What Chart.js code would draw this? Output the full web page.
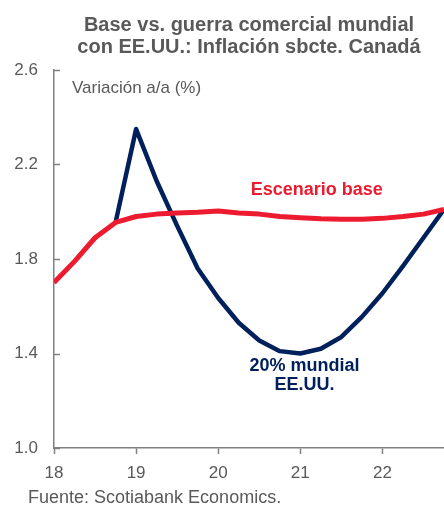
<!DOCTYPE html>
<html>
<head>
<meta charset="utf-8">
<script src="https://cdn.jsdelivr.net/npm/chart.js@4.4.1/dist/chart.umd.min.js"></script>
<style>
  html, body { margin: 0; padding: 0; background: #fff; }
  #wrap { width: 444px; height: 506px; }
</style>
</head>
<body>
<div id="wrap"><canvas id="chart" width="444" height="506"></canvas></div>
<script>
// quarterly positions (year fraction, 18 = 2018)
const quarters = [18, 18.25, 18.5, 18.75, 19, 19.25, 19.5, 19.75, 20, 20.25,
                  20.5, 20.75, 21, 21.25, 21.5, 21.75, 22, 22.25, 22.5, 22.75];
const baseCase = [1.70, 1.79, 1.89, 1.955, 1.98, 1.99, 1.995, 1.998, 2.003, 1.995,
                  1.99, 1.98, 1.975, 1.97, 1.968, 1.968, 1.972, 1.98, 1.99, 2.01];
const tradeWar = [null, null, null, 1.955, 2.35, 2.13, 1.94, 1.76, 1.635, 1.53,
                  1.455, 1.41, 1.40, 1.42, 1.47, 1.555, 1.655, 1.77, 1.89, 2.01];
const yTicks = [1.0, 1.4, 1.8, 2.2, 2.6];
const xTicks = [18, 19, 20, 21, 22];

const RED = '#ED1B2F';
const NAVY = '#00205B';
const GREY = '#595959';
const AXIS = '#808080';
const FONT = '"Liberation Sans", Arial, sans-serif';

const toPts = arr => quarters.map((q, i) => ({ x: q, y: arr[i] }));

const textPlugin = {
  id: 'texts',
  afterDraw(chart) {
    const ctx = chart.ctx;
    const xs = chart.scales.x, ys = chart.scales.y;
    ctx.save();
    ctx.textBaseline = 'middle';

    // title
    ctx.fillStyle = GREY;
    ctx.textAlign = 'center';
    ctx.font = 'bold 20px ' + FONT;
    ctx.fillText('Base vs. guerra comercial mundial', 249, 25);
    ctx.fillText('con EE.UU.: Inflación sbcte. Canadá', 249, 47);

    // unit label and source
    ctx.textAlign = 'left';
    ctx.font = '17px ' + FONT;
    ctx.fillText('Variación a/a (%)', 72, 88);
    ctx.font = '18px ' + FONT;
    ctx.fillText('Fuente: Scotiabank Economics.', 28, 498);

    // series labels
    ctx.textAlign = 'center';
    ctx.font = 'bold 18px ' + FONT;
    ctx.fillStyle = RED;
    ctx.fillText('Escenario base', xs.getPixelForValue(21.2), ys.getPixelForValue(2.092));
    ctx.fillStyle = NAVY;
    ctx.fillText('20% mundial', xs.getPixelForValue(21.05), ys.getPixelForValue(1.345));
    ctx.fillText('EE.UU.', xs.getPixelForValue(21.05), ys.getPixelForValue(1.265));

    // inward y-axis ticks
    ctx.strokeStyle = AXIS;
    ctx.lineWidth = 1.5;
    yTicks.forEach(v => {
      const py = Math.round(ys.getPixelForValue(v)) + 0.5;
      ctx.beginPath();
      ctx.moveTo(xs.left, py);
      ctx.lineTo(xs.left + 6, py);
      ctx.stroke();
    });
    ctx.restore();
  }
};

new Chart(document.getElementById('chart'), {
  type: 'line',
  data: {
    datasets: [
      {
        label: 'Escenario base',
        data: toPts(baseCase),
        borderColor: RED,
        borderWidth: 5,
        pointRadius: 0,
        tension: 0,
        borderJoinStyle: 'round',
        order: 1
      },
      {
        label: '20% mundial EE.UU.',
        data: toPts(tradeWar),
        borderColor: NAVY,
        borderWidth: 4.5,
        pointRadius: 0,
        tension: 0,
        borderJoinStyle: 'round',
        spanGaps: false,
        order: 2
      }
    ]
  },
  options: {
    responsive: false,
    animation: false,
    layout: { padding: { top: 70, right: 0, bottom: 0, left: 0 } },
    plugins: {
      legend: { display: false },
      tooltip: { enabled: false }
    },
    scales: {
      x: {
        type: 'linear',
        min: 18,
        max: 22.75,
        afterBuildTicks: s => { s.ticks = xTicks.map(v => ({ value: v })); },
        afterFit: s => { s.height = 58; },
        ticks: {
          color: GREY,
          font: { family: FONT, size: 17 },
          padding: 9,
          maxRotation: 0,
          callback: v => String(v)
        },
        grid: { drawOnChartArea: false, tickLength: 6, tickColor: AXIS, tickWidth: 1.5 },
        border: { color: AXIS, width: 1.5 }
      },
      y: {
        min: 1.0,
        max: 2.6,
        afterBuildTicks: s => { s.ticks = yTicks.map(v => ({ value: v })); },
        afterFit: s => { s.width = 54; },
        ticks: {
          color: GREY,
          font: { family: FONT, size: 17 },
          padding: 16,
          callback: v => v.toFixed(1)
        },
        grid: { display: false, drawTicks: false },
        border: { color: AXIS, width: 1.5 }
      }
    }
  },
  plugins: [textPlugin]
});
</script>
</body>
</html>
